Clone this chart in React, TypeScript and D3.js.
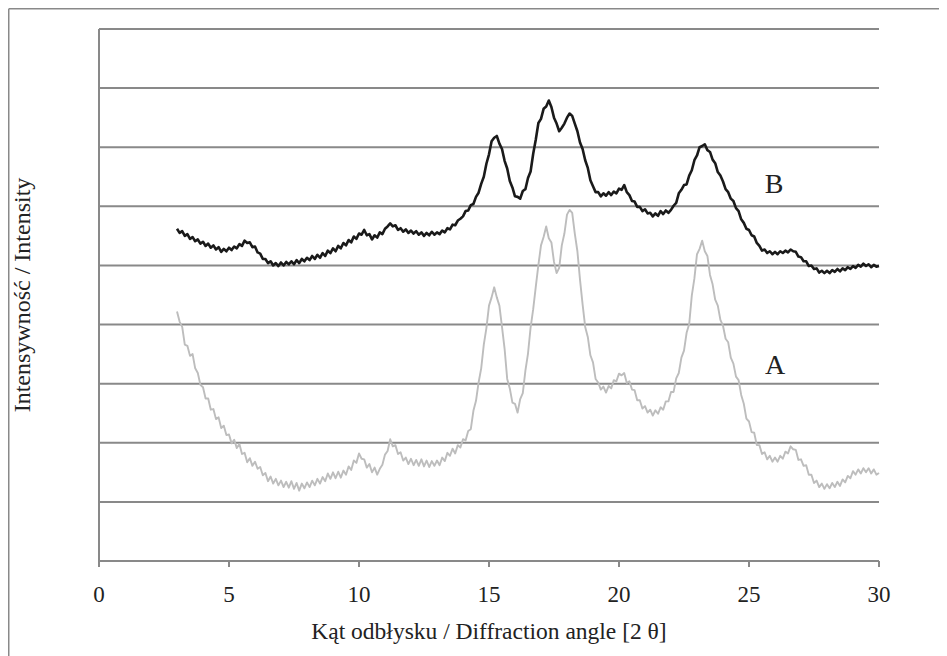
import React from 'react';
import * as d3 from 'd3';

// XRD patterns, intensity every 0.1 deg from 3.0 to 30.0
const ANGLE_START = 3.0;
const ANGLE_STEP = 0.1;

// sample B (black, upper)
const seriesB: number[] = [
  562, 555, 558, 550, 553, 545, 548, 541, 544, 537,
  540, 533, 537, 530, 534, 527, 531, 523, 528, 524,
  530, 526, 532, 529, 536, 533, 542, 538, 539, 531,
  532, 522, 520, 511, 511, 504, 507, 500, 504, 499,
  505, 500, 506, 502, 507, 502, 509, 504, 511, 507,
  513, 509, 516, 511, 518, 513, 521, 516, 525, 521,
  529, 524, 533, 529, 538, 534, 543, 539, 549, 545,
  554, 552, 560, 551, 553, 544, 551, 547, 556, 553,
  562, 566, 571, 566, 568, 560, 563, 557, 561, 555,
  559, 554, 558, 552, 556, 550, 555, 551, 557, 552,
  556, 553, 559, 556, 563, 561, 569, 568, 576, 579,
  583, 592, 593, 602, 604, 616, 623, 638, 650, 672,
  688, 710, 716, 719, 706, 697, 677, 664, 643, 632,
  617, 616, 613, 626, 629, 648, 659, 689, 713, 741,
  748, 765, 769, 779, 768, 750, 740, 727, 733, 740,
  750, 757, 753, 740, 727, 708, 697, 678, 665, 644,
  634, 624, 624, 617, 622, 618, 624, 619, 625, 622,
  630, 628, 636, 624, 619, 609, 608, 599, 599, 592,
  595, 588, 589, 583, 588, 584, 592, 587, 593, 589,
  594, 601, 606, 622, 628, 636, 637, 652, 661, 678,
  686, 700, 702, 705, 695, 692, 679, 673, 658, 652,
  642, 629, 624, 613, 609, 597, 592, 578, 572, 562,
  560, 551, 549, 538, 533, 525, 527, 521, 524, 519,
  523, 519, 524, 521, 525, 522, 527, 524, 523, 515,
  514, 507, 507, 499, 500, 494, 495, 488, 491, 487,
  491, 487, 492, 489, 494, 490, 495, 492, 497, 494,
  499, 496, 501, 498, 503, 499, 502, 497, 501, 498,
  499,
];

// sample A (grey, lower)
const seriesA: number[] = [
  422, 405, 396, 366, 364, 347, 350, 326, 318, 298,
  294, 275, 275, 256, 257, 240, 243, 225, 229, 213,
  214, 199, 205, 191, 198, 181, 183, 167, 174, 161,
  168, 156, 159, 145, 149, 135, 143, 131, 139, 128,
  136, 125, 134, 124, 135, 122, 132, 119, 131, 123,
  133, 125, 136, 128, 139, 131, 142, 135, 148, 139,
  150, 140, 151, 141, 153, 146, 160, 154, 170, 166,
  182, 173, 172, 158, 164, 150, 158, 146, 156, 163,
  180, 186, 206, 194, 196, 181, 184, 170, 175, 164,
  173, 162, 171, 161, 172, 160, 170, 159, 169, 161,
  170, 162, 175, 169, 183, 178, 190, 182, 196, 192,
  206, 204, 220, 223, 254, 271, 302, 326, 366, 394,
  432, 446, 463, 446, 432, 396, 359, 308, 292, 268,
  266, 251, 274, 284, 322, 351, 395, 426, 464, 501,
  534, 548, 566, 546, 539, 506, 487, 496, 534, 554,
  586, 594, 589, 554, 524, 476, 434, 396, 379, 348,
  336, 308, 302, 290, 295, 285, 296, 292, 306, 304,
  317, 314, 318, 301, 304, 290, 289, 272, 272, 258,
  262, 251, 256, 246, 255, 249, 260, 256, 270, 270,
  286, 286, 309, 318, 344, 356, 386, 401, 449, 478,
  519, 528, 542, 524, 516, 484, 468, 442, 432, 408,
  398, 376, 370, 344, 334, 312, 306, 281, 266, 241,
  236, 218, 217, 196, 196, 181, 184, 172, 178, 168,
  175, 168, 178, 173, 185, 182, 194, 189, 188, 171,
  172, 161, 162, 146, 146, 132, 136, 125, 131, 122,
  130, 123, 132, 125, 134, 127, 138, 133, 144, 140,
  152, 146, 155, 148, 157, 150, 157, 148, 155, 146,
  149,
];

const xTicks = [0, 5, 10, 15, 20, 25, 30];
const gridValues = [100, 200, 300, 400, 500, 600, 700, 800, 900];

const GRID = '#898989';
const FONT = "'Liberation Serif', Tinos, 'Times New Roman', Times, 'DejaVu Serif', serif";
const textStyle = { fontFamily: FONT };

export default function App() {
  const width = 939;
  const height = 648;
  const margin = { top: 21, right: 68, bottom: 95, left: 91 };

  const x = d3.scaleLinear().domain([0, 30]).range([margin.left, width - margin.right]);
  const y = d3.scaleLinear().domain([0, 900]).range([height - margin.bottom, margin.top]);

  const line = d3.line<number>()
    .x((_, i) => x(ANGLE_START + i * ANGLE_STEP))
    .y((d) => y(d));

  const x0 = x(0);
  const x1 = x(30);
  const yBase = y(0);

  return (
    <svg width={width} height={height} style={{ display: 'block' }}>
      <rect width={width} height={height} fill="#fff" />
      {/* outer frame, only top/left fall inside the window */}
      <line x1={0.75} x2={width} y1={0.75} y2={0.75} stroke={GRID} strokeWidth={1.5} />
      <line x1={0.75} x2={0.75} y1={0.75} y2={height} stroke={GRID} strokeWidth={1.5} />

      {/* grid */}
      {gridValues.map((v) => (
        <line key={v} x1={x0} x2={x1} y1={y(v)} y2={y(v)} stroke={GRID} strokeWidth={2} />
      ))}

      {/* axes */}
      <line x1={x0} x2={x0} y1={y(900)} y2={yBase} stroke={GRID} strokeWidth={2} />
      <line x1={x0} x2={x1} y1={yBase} y2={yBase} stroke={GRID} strokeWidth={2} />
      {xTicks.map((t) => (
        <g key={t}>
          <line x1={x(t)} x2={x(t)} y1={yBase} y2={yBase + 6} stroke={GRID} strokeWidth={2} />
          <text x={x(t)} y={yBase + 41} textAnchor="middle" style={textStyle} fontSize={23} fill="#222">
            {t}
          </text>
        </g>
      ))}

      <path d={line(seriesA) ?? ''} fill="none" stroke="#bdbdbd" strokeWidth={1.9} strokeLinejoin="round" />
      <path d={line(seriesB) ?? ''} fill="none" stroke="#1a1a1a" strokeWidth={2.6} strokeLinejoin="round" />

      <text x={766} y={185} textAnchor="middle" style={textStyle} fontSize={28} fill="#222">B</text>
      <text x={767} y={366} textAnchor="middle" style={textStyle} fontSize={28} fill="#222">A</text>

      <text x={(x0 + x1) / 2} y={631} textAnchor="middle" style={textStyle} fontSize={23.5} fill="#222">
        Kąt odbłysku / Diffraction angle [2 θ]
      </text>
      <text
        transform={`translate(22, ${(y(900) + yBase) / 2}) rotate(-90)`}
        textAnchor="middle"
        style={textStyle}
        fontSize={24}
        fill="#222"
      >
        Intensywność / Intensity
      </text>
    </svg>
  );
}
